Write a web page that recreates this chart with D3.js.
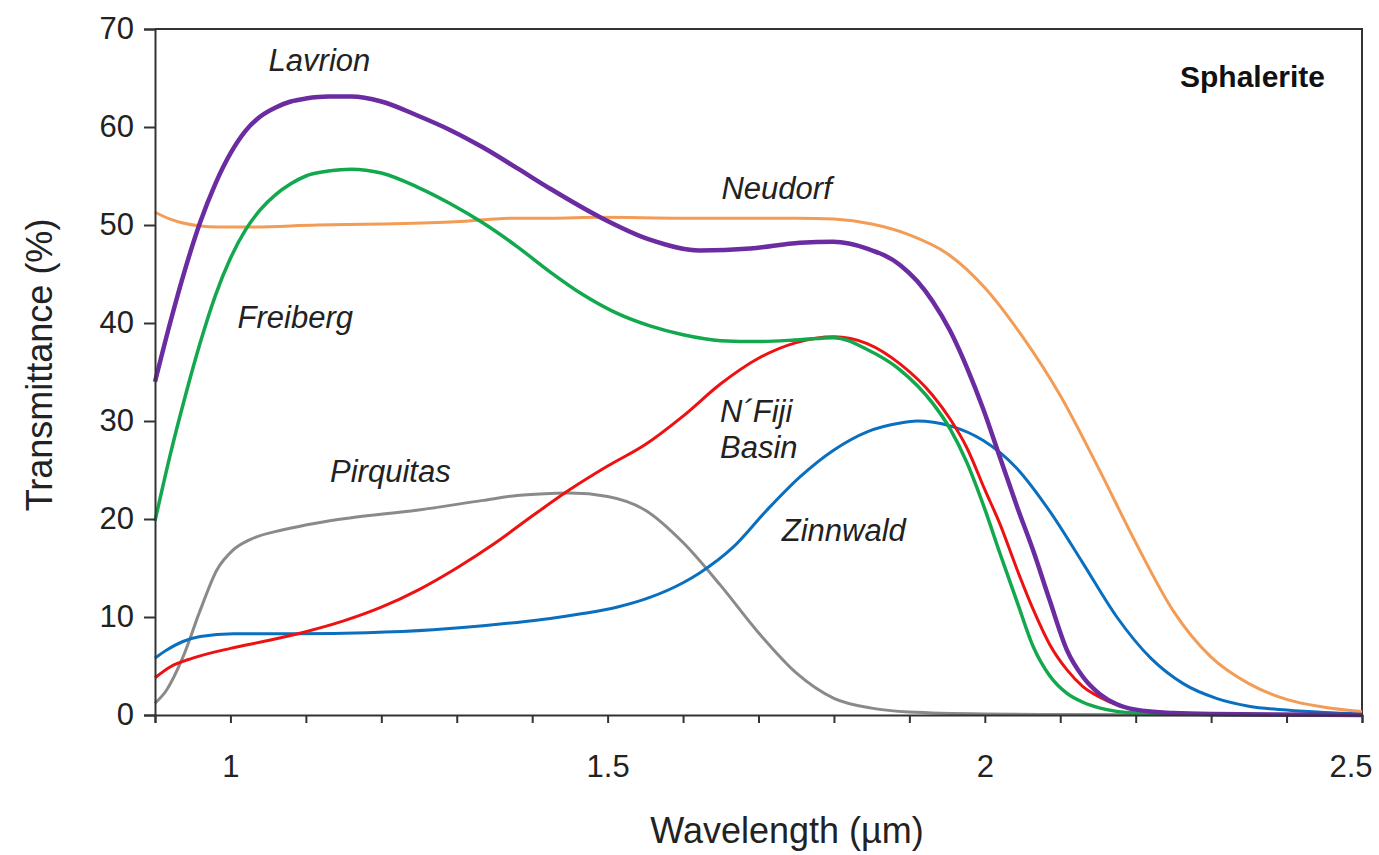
<!DOCTYPE html>
<html>
<head>
<meta charset="utf-8">
<script src="https://cdn.jsdelivr.net/npm/d3@7/dist/d3.min.js"></script>
<style>
  html, body { margin: 0; padding: 0; background: #fff; }
  svg { display: block; font-family: "Liberation Sans", Arial, sans-serif; }
</style>
</head>
<body>
<svg id="chart" width="1379" height="855"></svg>
<script>
// Sphalerite transmittance spectra (wavelength in µm, transmittance in %)
const wlLavrion = [0.9, 0.92, 0.94, 0.96, 0.98, 1.0, 1.02, 1.04, 1.06, 1.08, 1.1, 1.13, 1.16, 1.2, 1.247, 1.291, 1.335, 1.38, 1.424, 1.49, 1.556, 1.622, 1.689, 1.755, 1.799, 1.844, 1.888, 1.91, 1.931, 1.954, 1.976, 1.998, 2.02, 2.043, 2.064, 2.086, 2.109, 2.13, 2.153, 2.175, 2.2, 2.25, 2.3, 2.5];
const tLavrion  = [34, 40, 45.5, 50.3, 54.2, 57.3, 59.6, 61.1, 62.0, 62.6, 62.9, 63.1, 63.1, 62.6, 61.2, 59.7, 57.9, 55.8, 53.7, 50.8, 48.5, 47.4, 47.6, 48.2, 48.3, 47.6, 45.9, 44.3, 42.2, 39.2, 35.5, 31.2, 26.3, 21.2, 16.8, 11.7, 6.6, 3.9, 2.1, 1.1, 0.55, 0.2, 0.1, 0];

const wlFreiberg = [0.9, 0.92, 0.94, 0.96, 0.98, 1.0, 1.02, 1.04, 1.06, 1.08, 1.1, 1.13, 1.16, 1.2, 1.247, 1.291, 1.335, 1.38, 1.424, 1.467, 1.512, 1.556, 1.6, 1.65, 1.7, 1.755, 1.8, 1.844, 1.888, 1.931, 1.954, 1.976, 2.0, 2.02, 2.043, 2.064, 2.086, 2.109, 2.13, 2.153, 2.2, 2.3, 2.5];
const tFreiberg  = [19.8, 26.5, 32.5, 38.0, 42.8, 46.6, 49.5, 51.6, 53.1, 54.2, 55.0, 55.5, 55.7, 55.3, 53.9, 52.2, 50.2, 47.8, 45.2, 42.9, 41.0, 39.7, 38.8, 38.2, 38.1, 38.3, 38.5, 37.3, 35.2, 31.8, 29.2, 25.8, 21.0, 16.5, 11.5, 7.0, 4.0, 2.2, 1.3, 0.7, 0.2, 0.05, 0];

const wlNeudorf = [0.9, 0.92, 0.937, 0.96, 0.982, 1.026, 1.115, 1.202, 1.291, 1.38, 1.424, 1.49, 1.6, 1.75, 1.8, 1.85, 1.9, 1.95, 2.0, 2.05, 2.1, 2.15, 2.2, 2.25, 2.3, 2.35, 2.4, 2.45, 2.5];
const tNeudorf  = [51.3, 50.6, 50.2, 49.9, 49.8, 49.8, 50.0, 50.1, 50.3, 50.7, 50.7, 50.8, 50.7, 50.7, 50.6, 50.1, 49.0, 47.1, 43.6, 38.6, 32.6, 25.3, 17.6, 10.6, 5.9, 3.2, 1.6, 0.8, 0.35];

const wlZinnwald = [0.9, 0.915, 0.937, 0.96, 1.004, 1.092, 1.181, 1.269, 1.335, 1.38, 1.424, 1.467, 1.512, 1.556, 1.6, 1.622, 1.666, 1.711, 1.755, 1.799, 1.844, 1.888, 1.91, 1.954, 1.998, 2.042, 2.086, 2.13, 2.175, 2.22, 2.263, 2.307, 2.35, 2.4, 2.45, 2.5];
const tZinnwald  = [5.8, 6.6, 7.5, 8.0, 8.3, 8.3, 8.4, 8.7, 9.1, 9.45, 9.85, 10.35, 11.0, 12.0, 13.5, 14.5, 17.1, 20.9, 24.3, 27, 28.9, 29.8, 30, 29.5, 28.0, 25.2, 20.8, 15.5, 10.0, 5.8, 3.2, 1.7, 0.9, 0.5, 0.25, 0.1];

const wlFiji = [0.9, 0.92, 0.95, 1.0, 1.05, 1.1, 1.15, 1.2, 1.25, 1.3, 1.35, 1.4, 1.45, 1.5, 1.55, 1.6, 1.65, 1.7, 1.75, 1.8, 1.844, 1.888, 1.931, 1.954, 1.976, 2.0, 2.02, 2.043, 2.064, 2.086, 2.109, 2.13, 2.153, 2.196, 2.25, 2.3, 2.5];
const tFiji  = [3.8, 4.9, 5.8, 6.8, 7.6, 8.5, 9.6, 11.0, 12.8, 15.0, 17.5, 20.3, 23.0, 25.4, 27.6, 30.5, 33.8, 36.4, 38.0, 38.6, 37.9, 35.8, 32.6, 30.2, 27.3, 23.0, 19.5, 14.8, 10.8, 7.2, 4.6, 2.9, 1.8, 0.6, 0.2, 0.05, 0];

const wlPirquitas = [0.9, 0.915, 0.937, 0.96, 0.982, 1.003, 1.026, 1.07, 1.115, 1.158, 1.247, 1.335, 1.38, 1.424, 1.45, 1.5, 1.55, 1.6, 1.65, 1.7, 1.75, 1.8, 1.85, 1.9, 2.0, 2.1, 2.5];
const tPirquitas  = [1.2, 2.5, 5.9, 10.7, 14.8, 16.8, 17.9, 18.9, 19.6, 20.1, 20.9, 21.9, 22.4, 22.6, 22.65, 22.3, 20.9, 17.6, 13.2, 8.4, 4.3, 1.7, 0.7, 0.3, 0.1, 0.05, 0];

// x-axis ticks every 0.1 µm, labelled at half-micron steps
const xTicks = d3.range(9, 26).map(d => d / 10);
const xTickLabels = [1, 1.5, 2, 2.5];
const yTicks = [0, 10, 20, 30, 40, 50, 60, 70];

const series = [
  { name: "Pirquitas", wl: wlPirquitas, t: tPirquitas, color: "#8a8a8a", width: 3 },
  { name: "Zinnwald",  wl: wlZinnwald,  t: tZinnwald,  color: "#0a6fbf", width: 3 },
  { name: "N´Fiji Basin", wl: wlFiji, t: tFiji, color: "#ee1111", width: 3 },
  { name: "Neudorf",   wl: wlNeudorf,   t: tNeudorf,   color: "#f39c55", width: 3 },
  { name: "Freiberg",  wl: wlFreiberg,  t: tFreiberg,  color: "#12a84e", width: 3.5 },
  { name: "Lavrion",   wl: wlLavrion,   t: tLavrion,   color: "#6a2ca0", width: 4.5 }
];

const svg = d3.select("#chart");
const plotLeft = 155, plotRight = 1362, plotTop = 29, plotBottom = 715;

const x = d3.scaleLinear().domain([0.9, 2.5]).range([plotLeft, plotRight]);
const y = d3.scaleLinear().domain([0, 70]).range([plotBottom, plotTop]);

// frame (top and right edges)
svg.append("path")
  .attr("d", `M${plotLeft},${plotTop}H${plotRight}V${plotBottom}`)
  .attr("fill", "none").attr("stroke", "#333").attr("stroke-width", 2);

// spectra
const line = d3.line().x(d => x(d[0])).y(d => y(d[1])).curve(d3.curveMonotoneX);
const gLines = svg.append("g");
series.forEach(s => {
  gLines.append("path")
    .datum(s.wl.map((w, i) => [w, s.t[i]]))
    .attr("d", line)
    .attr("fill", "none")
    .attr("stroke", s.color)
    .attr("stroke-width", s.width)
    .attr("stroke-linejoin", "round");
});

// y axis
const yAxis = svg.append("g").attr("transform", `translate(${plotLeft},0)`)
  .call(d3.axisLeft(y).tickValues(yTicks).tickSize(11).tickPadding(10).tickFormat(d3.format("d")));
yAxis.select(".domain").attr("stroke", "#333").attr("stroke-width", 2);
yAxis.selectAll(".tick line").attr("stroke", "#333").attr("stroke-width", 2);
yAxis.selectAll(".tick text").attr("font-size", 31).attr("fill", "#222")
  .attr("font-family", "Liberation Sans, Arial, sans-serif");

// x axis
const xAxis = svg.append("g").attr("transform", `translate(0,${plotBottom})`)
  .call(d3.axisBottom(x).tickValues(xTicks).tickSize(8).tickPadding(32)
    .tickFormat(d => xTickLabels.some(v => Math.abs(v - d) < 1e-9) ? d3.format("")(+d.toFixed(1)) : ""));
xAxis.select(".domain").attr("stroke", "#333").attr("stroke-width", 2);
xAxis.selectAll(".tick line").attr("stroke", "#333").attr("stroke-width", 2);
xAxis.selectAll(".tick text").attr("font-size", 31).attr("fill", "#222")
  .attr("font-family", "Liberation Sans, Arial, sans-serif");
xAxis.selectAll(".tick text").filter(d => Math.abs(d - 2.5) < 1e-9)
  .attr("text-anchor", "end").attr("dx", 10);

// axis titles
svg.append("text")
  .attr("transform", "translate(52,365) rotate(-90)")
  .attr("text-anchor", "middle").attr("font-size", 36).attr("fill", "#222")
  .text("Transmittance (%)");
svg.append("text")
  .attr("x", 787).attr("y", 843)
  .attr("text-anchor", "middle").attr("font-size", 36).attr("fill", "#222")
  .text("Wavelength (µm)");

// curve labels
const labels = [
  { text: "Lavrion",   w: 1.118, v: 65.7, anchor: "middle" },
  { text: "Neudorf",   w: 1.724, v: 52.65, anchor: "middle" },
  { text: "Freiberg",  w: 1.086, v: 39.5, anchor: "middle" },
  { text: "Pirquitas", w: 1.212, v: 23.8, anchor: "middle" },
  { text: "N´Fiji",    w: 1.649, v: 29.9, anchor: "start" },
  { text: "Basin",     w: 1.649, v: 26.2, anchor: "start" },
  { text: "Zinnwald",  w: 1.813, v: 17.8, anchor: "middle" }
];
svg.append("g").selectAll("text").data(labels).join("text")
  .attr("x", d => x(d.w)).attr("y", d => y(d.v))
  .attr("text-anchor", d => d.anchor)
  .attr("font-size", 31).attr("font-style", "italic").attr("fill", "#222")
  .text(d => d.text);

svg.append("text")
  .attr("x", x(2.451)).attr("y", y(64.1))
  .attr("text-anchor", "end").attr("font-size", 30).attr("font-weight", "bold").attr("fill", "#111")
  .text("Sphalerite");
</script>
</body>
</html>
